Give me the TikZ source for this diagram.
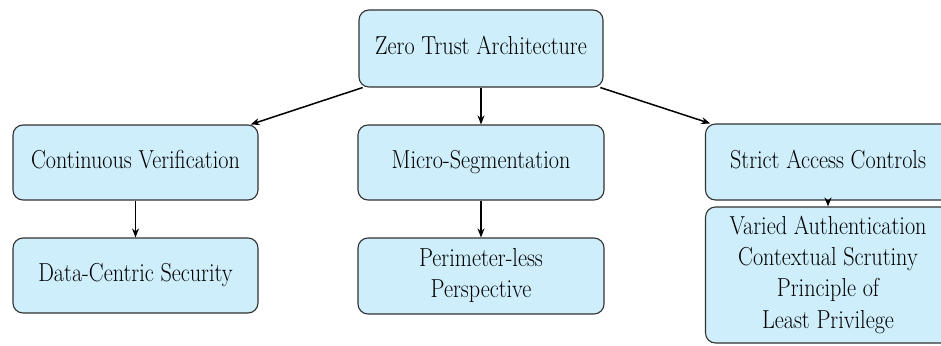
\documentclass[tikz,border=0pt]{standalone}
\usepackage{graphicx}
\usetikzlibrary{arrows.meta}
\definecolor{boxfill}{RGB}{205,238,250}
\definecolor{boxline}{RGB}{50,50,50}
\newcommand{\lbl}[1]{\scalebox{1.11}[1.3]{\begin{tabular}{@{}c@{}}#1\end{tabular}}}
\begin{document}
\begin{tikzpicture}[x=1pt,y=-1pt,
  box/.style={draw=boxline, line width=1.1pt, fill=boxfill, rounded corners=10pt,
    inner sep=0pt, minimum width=245pt, minimum height=76pt,
    font=\fontsize{20}{24}\selectfont},
  arr/.style={-{Stealth[length=9pt,width=7pt]}, line width=1.5pt, black}]
\useasboundingbox (0,0) rectangle (941,345);
\node[box, minimum width=244pt, minimum height=77pt] (zta) at (481,48.5) {\lbl{Zero Trust Architecture}};
\node[box, minimum height=75pt] (cv) at (135.5,162.5) {\lbl{Continuous Verification}};
\node[box, minimum width=246pt, minimum height=75pt] (ms) at (481,162.5) {\lbl{Micro-Segmentation}};
\node[box] (sac) at (828,162) {\lbl{Strict Access Controls}};
\node[box, minimum height=75pt] (dcs) at (135.5,275.5) {\lbl{Data-Centric Security}};
\node[box, minimum width=246pt] (pp) at (481,276) {\lbl{Perimeter-less\\Perspective}};
\node[box, minimum height=136pt] (vac) at (828,275) {\lbl{Varied Authentication\\Contextual Scrutiny\\Principle of\\Least Privilege}};
\draw[arr] (zta) -- (cv);
\draw[arr] (zta) -- (ms);
\draw[arr] (zta) -- (sac);
\draw[arr] (cv) -- (dcs);
\draw[arr] (ms) -- (pp);
\draw[arr] (sac) -- (vac);
\end{tikzpicture}
\end{document}
